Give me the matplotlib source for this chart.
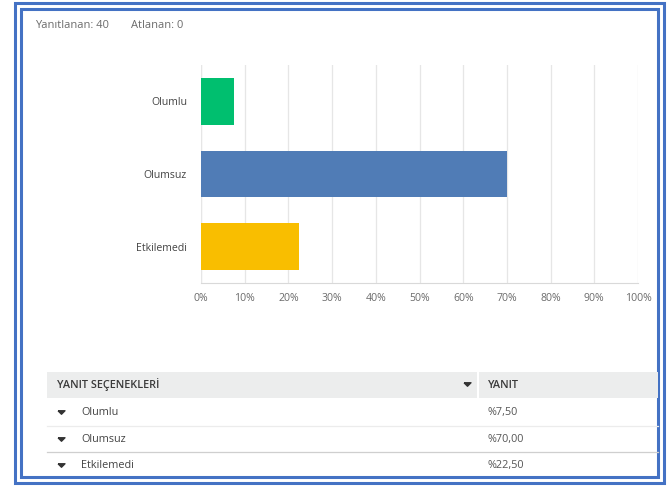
import matplotlib.pyplot as plt
from matplotlib.patches import Rectangle
from matplotlib.lines import Line2D

# survey result, percent of answers
categories = ["Olumlu", "Olumsuz", "Etkilemedi"]
values = [7.5, 70.0, 22.5]
colors = ["#00BF6F", "#507CB6", "#F9BE00"]
answered = 40
skipped = 0

W, H = 669, 486
TXT = "#6b6b6b"
plt.rcParams["font.family"] = ["Open Sans", "DejaVu Sans"]

fig = plt.figure(figsize=(W / 100, H / 100), dpi=100)

# small flat down-triangle like the web table
TRI = [(-1, 0.5), (1, 0.5), (0, -0.5), (-1, 0.5)]


def fx(px):
    return px / W


def fy(py):
    return 1 - py / H


# double blue frame
for x0, y0, x1, y1 in [(15, 3, 664, 483), (21, 9, 658, 477)]:
    fig.patches.append(Rectangle((fx(x0), fy(y1)), fx(x1 - x0), (y1 - y0) / H,
                                 transform=fig.transFigure, fill=False,
                                 edgecolor="#4472C4", linewidth=2.2))

fig.text(fx(35), fy(25), f"Yanıtlanan: {answered}", fontsize=8.0, color=TXT, va="center")
fig.text(fx(131), fy(25), f"Atlanan: {skipped}", fontsize=8.0, color=TXT, va="center")

# bar chart
ax = fig.add_axes([fx(201), fy(283), fx(638 - 201), (283 - 65) / H])
ax.barh(range(len(values)), values, color=colors, height=0.64, zorder=3)
ax.set_xlim(0, 100)
ax.set_ylim(len(values) - 0.5, -0.5)
ax.set_xticks(range(0, 101, 10))
ax.set_xticklabels([f"{t}%" for t in range(0, 101, 10)], fontsize=7.6, color=TXT)
ax.set_yticks(range(len(categories)))
ax.set_yticklabels(categories, fontsize=7.6, color="#444444")
ax.tick_params(axis="x", length=0, pad=7)
ax.tick_params(axis="y", length=0, pad=10)
ax.grid(axis="x", color="#e6e6e6", linewidth=0.9, zorder=0)
for s in ["top", "right", "left"]:
    ax.spines[s].set_visible(False)
ax.spines["bottom"].set_color("#d9d9d9")
ax.axvline(0, color="#e6e6e6", linewidth=0.9, zorder=0)

# results table
fig.patches.append(Rectangle((fx(47), fy(398)), fx(658 - 47), 26 / H,
                             transform=fig.transFigure, facecolor="#eceded",
                             edgecolor="none"))
fig.lines.append(Line2D([fx(478), fx(478)], [fy(372), fy(398)],
                        transform=fig.transFigure, color="white", linewidth=1.5))
fig.text(fx(57), fy(385), "YANIT SEÇENEKLERİ", fontsize=7.8, color="#3a3a3a",
         va="center", fontweight="semibold")
fig.text(fx(488), fy(385), "YANIT", fontsize=7.8, color="#3a3a3a",
         va="center", fontweight="semibold")
fig.lines.append(Line2D([fx(467)], [fy(384)], transform=fig.transFigure,
                        marker=TRI, markersize=5, color="#333333", linestyle="none"))

row_y = [412, 439, 465]
sep_y = [426, 452]
sep_c = ["#ececec", "#cfcfcf"]
for yy, cc in zip(sep_y, sep_c):
    fig.lines.append(Line2D([fx(47), fx(658)], [fy(yy), fy(yy)],
                            transform=fig.transFigure, color=cc, linewidth=0.9))
for cat, val, yy in zip(categories, values, row_y):
    fig.lines.append(Line2D([fx(61)], [fy(yy)], transform=fig.transFigure,
                            marker=TRI, markersize=5, color="#333333", linestyle="none"))
    fig.text(fx(81), fy(yy), cat, fontsize=7.8, color="#444444", va="center")
    fig.text(fx(488), fy(yy), "%" + f"{val:.2f}".replace(".", ","),
             fontsize=7.8, color="#555555", va="center")

fig.savefig("out.png", dpi=100)
